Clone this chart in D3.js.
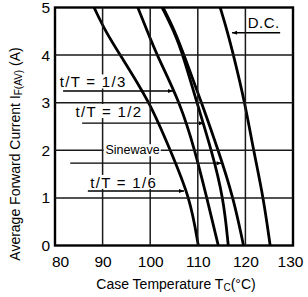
<!DOCTYPE html>
<html>
<head>
<meta charset="utf-8">
<script src="https://cdn.jsdelivr.net/npm/d3@7"></script>
<style>
  html, body { margin: 0; padding: 0; background: #fff; }
  svg { display: block; font-family: "Liberation Sans", Arial, sans-serif; }
</style>
</head>
<body>
<svg id="chart" width="308" height="297"></svg>
<script>
// ---- data ----
const current = [0, 1, 2, 3, 4, 4.5, 5];            // I_F(AV) (A)
const tempDC     = [125.2, 123.8, 121.7, 119.9, 117.5, 116.2, 114.7];
const tempSine   = [119.6, 117.5, 114.3, 110.8, 107.1, 105.2, 102.7];
const tempHalf   = [116.4, 115.4, 112.9, 109.8, 106.9, 105.0, 102.5];
const tempThird  = [114.3, 111.9, 109.4, 106.3, 101.4, 99.4, 97.4];
const tempSixth  = [110.1, 108.4, 104.2, 100.0, 93.7, 90.6, 88.2];
const seriesNames = ["D.C.", "Sinewave", "t/T = 1/2", "t/T = 1/3", "t/T = 1/6"];
const xTicks = [80, 90, 100, 110, 120, 130];
const yTicks = [0, 1, 2, 3, 4, 5];

const series = [tempDC, tempSine, tempHalf, tempThird, tempSixth];

// ---- layout ----
const svg = d3.select("#chart");
const x = d3.scaleLinear().domain([80, 130]).range([55, 293]);
const y = d3.scaleLinear().domain([0, 5]).range([245.5, 7.5]);

// curves
svg.append("defs").append("clipPath").attr("id", "plotclip").append("rect")
  .attr("x", x(80)).attr("y", y(5)).attr("width", x(130) - x(80)).attr("height", y(0) - y(5));

const line = d3.line()
  .x(d => x(d[0]))
  .y(d => y(d[1]))
  .curve(d3.curveBasis);

svg.append("g").attr("clip-path", "url(#plotclip)")
  .selectAll("path").data(series).join("path")
  .attr("d", s => line(s.map((t, i) => [t, current[i]])))
  .attr("fill", "none").attr("stroke", "#000").attr("stroke-width", 2.8);

// tick labels
const axX = svg.append("g").attr("transform", `translate(0,${y(0)})`)
  .call(d3.axisBottom(x).tickValues(xTicks).tickFormat(d3.format("d")).tickSize(0).tickPadding(10));
axX.select(".domain").remove();
axX.selectAll("text")
  .attr("font-size", 15.5).attr("fill", "#000")
  .attr("font-family", "Liberation Sans, Arial, sans-serif")
  .attr("dx", (d, i) => i === 0 ? 5 : (i === xTicks.length - 1 ? -3 : 0));

const axY = svg.append("g").attr("transform", `translate(${x(80)},0)`)
  .call(d3.axisLeft(y).tickValues(yTicks).tickFormat(d3.format("d")).tickSize(0).tickPadding(5));
axY.select(".domain").remove();
axY.selectAll("text")
  .attr("font-size", 15.5).attr("fill", "#000")
  .attr("font-family", "Liberation Sans, Arial, sans-serif");

// frame
svg.append("rect")
  .attr("x", x(80)).attr("y", y(5)).attr("width", x(130) - x(80)).attr("height", y(0) - y(5))
  .attr("fill", "none").attr("stroke", "#000").attr("stroke-width", 2.4);

// annotations
svg.append("defs").append("marker")
  .attr("id", "arr").attr("viewBox", "0 0 10 10").attr("refX", 10).attr("refY", 5)
  .attr("markerWidth", 7).attr("markerHeight", 5).attr("orient", "auto")
  .attr("markerUnits", "userSpaceOnUse")
  .append("path").attr("d", "M0,1 L10,5 L0,9 Z").attr("fill", "#000");

const notes = [
  { name: seriesNames[0], tx: 120.5, ty: 4.57, size: 15, anchor: "start", ax0: 127.3, ax1: 117.2, ay: 4.47, ls: 0.5 },
  { name: seriesNames[3], tx: 81.0,  ty: 3.32, size: 15, anchor: "start", ax0: 81.7, ax1: 104.8, ay: 3.245, ls: 1.3 },
  { name: seriesNames[2], tx: 84.3,  ty: 2.70, size: 15, anchor: "start", ax0: 85.7, ax1: 111.3, ay: 2.57, ls: 1.3 },
  { name: seriesNames[1], tx: 96.3,  ty: 2.0,  size: 12.5, anchor: "middle", ax0: 83.2, ax1: 115.0, ay: 1.73, ls: 0, mid: true },
  { name: seriesNames[4], tx: 87.4,  ty: 1.21, size: 15, anchor: "start", ax0: 86.9, ax1: 107.1, ay: 1.145, ls: 1.3 }
];

const boxes = [];
notes.forEach(n => {
  svg.append("line")
    .attr("x1", x(n.ax0)).attr("x2", x(n.ax1)).attr("y1", y(n.ay)).attr("y2", y(n.ay))
    .attr("stroke", "#000").attr("stroke-width", 1.4)
    .attr("marker-end", "url(#arr)");
  const t = svg.append("text")
    .attr("x", x(n.tx)).attr("y", y(n.ty))
    .attr("text-anchor", n.anchor)
    .attr("dominant-baseline", n.mid ? "central" : "alphabetic")
    .attr("font-size", n.size).attr("letter-spacing", n.ls)
    .attr("fill", "#000")
    .text(n.name);
  const b = t.node().getBBox();
  boxes.push({ x0: b.x - 2, x1: b.x + b.width + 1, y0: b.y + 1, y1: b.y + b.height - (n.mid ? 1 : 2) });
});

// axis titles
const xt = svg.append("text").attr("x", 176).attr("y", 289)
  .attr("text-anchor", "middle").attr("font-size", 14).attr("fill", "#000");
xt.append("tspan").text("Case Temperature T");
xt.append("tspan").attr("font-size", 10).attr("dy", 2).text("C");
xt.append("tspan").attr("dy", -2).text("(°C)");

const yt = svg.append("text")
  .attr("transform", "translate(20,154) rotate(-90)")
  .attr("text-anchor", "middle").attr("font-size", 14).attr("fill", "#000");
yt.append("tspan").text("Average Forward Current I");
yt.append("tspan").attr("font-size", 10).attr("dy", 2).text("F(AV)");
yt.append("tspan").attr("dy", -2).text(" (A)");

// gridlines, drawn last, one path per line, broken where the labels sit
function segments(a0, a1, cuts) {
  cuts = cuts.slice().sort((p, q) => p[0] - q[0]);
  const out = [];
  let s = a0;
  cuts.forEach(c => {
    if (c[1] <= s || c[0] >= a1) return;
    if (c[0] > s) out.push([s, c[0]]);
    s = Math.max(s, c[1]);
  });
  if (s < a1) out.push([s, a1]);
  return out;
}
xTicks.slice(1, -1).forEach(d => {
  const X = x(d);
  const cuts = boxes.filter(b => X > b.x0 && X < b.x1).map(b => [b.y0, b.y1]);
  segments(y(5), y(0), cuts).forEach(s => {
    svg.append("path").attr("d", `M${X},${s[0]}L${X},${s[1]}`)
      .attr("stroke", "rgb(25,25,25)").attr("stroke-width", 1.5).attr("fill", "none");
  });
});
yTicks.slice(1, -1).forEach(d => {
  const Y = y(d);
  const cuts = boxes.filter(b => Y > b.y0 && Y < b.y1).map(b => [b.x0, b.x1]);
  segments(x(80), x(130), cuts).forEach(s => {
    svg.append("path").attr("d", `M${s[0]},${Y}L${s[1]},${Y}`)
      .attr("stroke", "rgb(25,25,25)").attr("stroke-width", 1.5).attr("fill", "none");
  });
});
</script>
</body>
</html>
